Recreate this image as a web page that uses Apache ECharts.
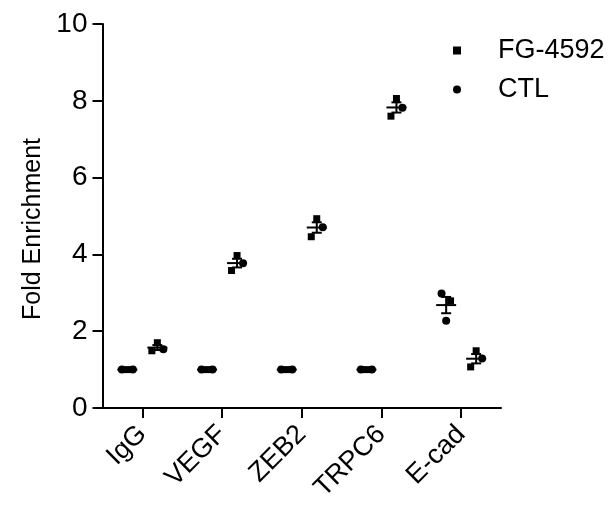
<!DOCTYPE html>
<html>
<head>
<meta charset="utf-8">
<script src="https://cdn.jsdelivr.net/npm/echarts@6/dist/echarts.min.js"></script>
<style>
  html, body { margin: 0; padding: 0; background: #fff; }
  #chart { width: 611px; height: 506px; }
</style>
</head>
<body>
<div id="chart"></div>
<script>
// categories and tick labels
const categories = ['IgG', 'VEGF', 'ZEB2', 'TRPC6', 'E-cad']
const yTicks = [0, 2, 4, 6, 8, 10]

// replicate values, left column and right column of each category
const leftValues = [
  [1, 1, 1],
  [1, 1, 1],
  [1, 1, 1],
  [1, 1, 1],
  [2.98, 2.79, 2.27]
]
const rightValues = [
  [1.70, 1.53, 1.49],
  [3.97, 3.77, 3.58],
  [4.93, 4.71, 4.46],
  [8.06, 7.82, 7.60],
  [1.49, 1.29, 1.07]
]
// which legend group each replicate belongs to
const leftGroups = [
  ['CTL', 'FG-4592', 'CTL'],
  ['CTL', 'FG-4592', 'CTL'],
  ['CTL', 'FG-4592', 'CTL'],
  ['CTL', 'FG-4592', 'CTL'],
  ['CTL', 'FG-4592', 'CTL']
]
const rightGroups = [
  ['FG-4592', 'CTL', 'FG-4592'],
  ['FG-4592', 'CTL', 'FG-4592'],
  ['FG-4592', 'CTL', 'FG-4592'],
  ['FG-4592', 'CTL', 'FG-4592'],
  ['FG-4592', 'CTL', 'FG-4592']
]

// layout (pixels)
const SIDE_OFFSET = 15
const jitterFlat = [-5.5, 0, 5.5]
const jitterSpread = [0, 6, -5.5]
const jitterEcadLeft = [-4.6, 4.4, 0]

const font = 'Liberation Sans, Arial, sans-serif'

function mean(arr) {
  return arr.reduce((a, b) => a + b, 0) / arr.length
}
function sem(arr) {
  const m = mean(arr)
  const sd = Math.sqrt(arr.reduce((a, b) => a + (b - m) * (b - m), 0) / (arr.length - 1))
  return sd / Math.sqrt(arr.length)
}

const points = { 'FG-4592': [], 'CTL': [] }
const stats = []
categories.forEach((c, i) => {
  leftValues[i].forEach((v, k) => {
    const jit = i === 4 ? jitterEcadLeft[k] : jitterFlat[k]
    points[leftGroups[i][k]].push({ value: [i, v], symbolOffset: [-SIDE_OFFSET + jit, 0] })
  })
  rightValues[i].forEach((v, k) => {
    points[rightGroups[i][k]].push({ value: [i, v], symbolOffset: [SIDE_OFFSET + jitterSpread[k], 0] })
  })
  stats.push([i, -1, mean(leftValues[i]), sem(leftValues[i])])
  stats.push([i, 1, mean(rightValues[i]), sem(rightValues[i])])
})

const myChart = echarts.init(document.getElementById('chart'))
const option = {
  animation: false,
  grid: {
    left: 102.5,
    right: 110,
    top: 24,
    bottom: 98
  },
  legend: {
    orient: 'vertical',
    left: 448,
    top: 32,
    itemWidth: 8,
    itemHeight: 8,
    itemGap: 12,
    textStyle: {
      fontFamily: font,
      fontSize: 27,
      lineHeight: 27,
      color: '#000',
      padding: [0, 0, 0, 32]
    },
    data: [
      { name: 'FG-4592', icon: 'rect', itemStyle: { color: '#000', opacity: 1 } },
      { name: 'CTL', icon: 'circle', itemStyle: { color: '#000', opacity: 1 } }
    ]
  },
  xAxis: {
    type: 'category',
    data: categories,
    boundaryGap: true,
    splitLine: { show: false },
    axisLine: { show: true, lineStyle: { color: '#000', width: 2 } },
    axisTick: { show: true, alignWithLabel: true, length: 10, lineStyle: { color: '#000', width: 2 } },
    axisLabel: {
      interval: 0,
      rotate: 45,
      margin: 22,
      fontFamily: font,
      fontSize: 27,
      color: '#000'
    }
  },
  yAxis: {
    type: 'value',
    min: 0,
    max: 10,
    interval: 2,
    name: 'Fold Enrichment',
    nameLocation: 'middle',
    nameGap: 52,
    nameTextStyle: {
      fontFamily: font,
      fontSize: 25,
      color: '#000',
      padding: [0, 26, 0, 0]
    },
    splitLine: { show: false },
    axisLine: { show: true, onZero: false, lineStyle: { color: '#000', width: 2 } },
    axisTick: { show: true, length: 10, lineStyle: { color: '#000', width: 2 } },
    axisLabel: {
      margin: 15,
      fontFamily: font,
      fontSize: 28,
      color: '#000',
      formatter: v => yTicks.indexOf(v) >= 0 ? String(v) : ''
    }
  },
  series: [
    {
      name: 'FG-4592',
      type: 'scatter',
      symbol: 'rect',
      symbolSize: 7,
      itemStyle: { color: '#000', opacity: 1 },
      data: points['FG-4592'],
      z: 3
    },
    {
      name: 'CTL',
      type: 'scatter',
      symbol: 'circle',
      symbolSize: 8,
      itemStyle: { color: '#000', opacity: 1 },
      data: points['CTL'],
      z: 3
    },
    {
      type: 'custom',
      silent: true,
      z: 4,
      data: stats,
      renderItem(params, api) {
        const i = api.value(0)
        const side = api.value(1)
        const m = api.value(2)
        const e = api.value(3)
        const pm = api.coord([i, m])
        const x = pm[0] + side * SIDE_OFFSET
        const yHi = api.coord([i, m + e])[1]
        const yLo = api.coord([i, m - e])[1]
        const style = { stroke: '#000', lineWidth: 2 }
        return {
          type: 'group',
          children: [
            { type: 'line', shape: { x1: x - 10, y1: pm[1], x2: x + 10, y2: pm[1] }, style },
            { type: 'line', shape: { x1: x, y1: yHi, x2: x, y2: yLo }, style },
            { type: 'line', shape: { x1: x - 5, y1: yHi, x2: x + 5, y2: yHi }, style },
            { type: 'line', shape: { x1: x - 5, y1: yLo, x2: x + 5, y2: yLo }, style }
          ]
        }
      }
    }
  ]
}
myChart.setOption(option)
</script>
</body>
</html>
